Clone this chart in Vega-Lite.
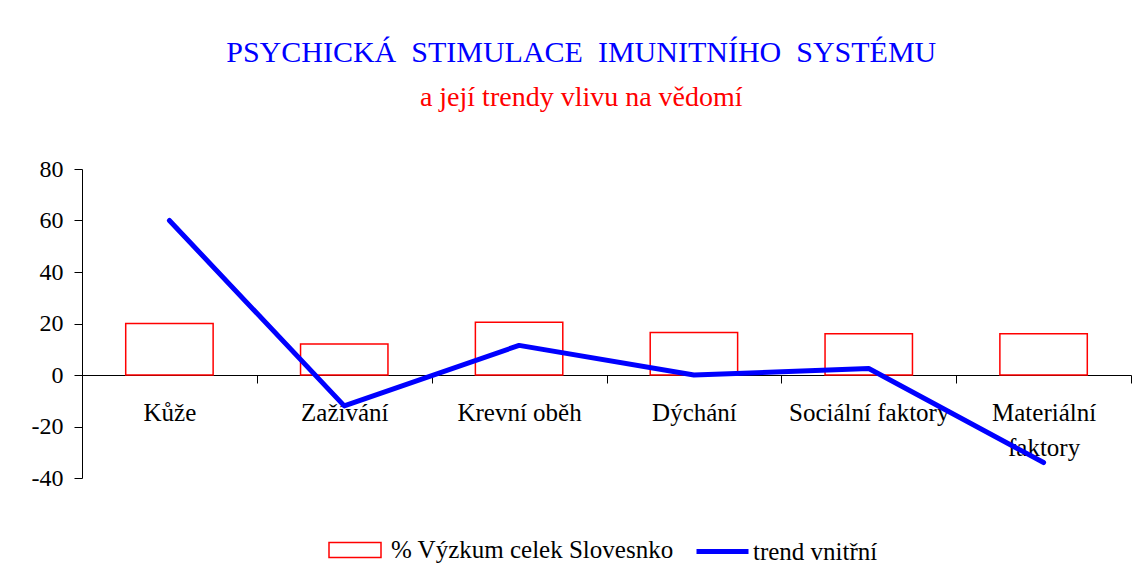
{
  "$schema": "https://vega.github.io/schema/vega-lite/v6.json",
  "width": 1049,
  "height": 309,
  "autosize": {"type": "none"},
  "padding": {"left": 82, "top": 169, "right": 10, "bottom": 87},
  "background": "white",
  "title": {
    "text": "PSYCHICKÁ\u00a0\u00a0STIMULACE\u00a0\u00a0IMUNITNÍHO\u00a0\u00a0SYSTÉMU",
    "subtitle": "a její trendy vlivu na vědomí",
    "anchor": "middle",
    "frame": "bounds",
    "font": "Liberation Serif",
    "fontSize": 30,
    "fontWeight": "normal",
    "color": "#0000FF",
    "subtitleFont": "Liberation Serif",
    "subtitleFontSize": 28,
    "subtitleColor": "#FF0000",
    "subtitlePadding": 16,
    "offset": 45
  },
  "data": {
    "values": [
      {"kategorie": "Kůže", "vyzkum": 20, "trend": 60},
      {"kategorie": "Zažívání", "vyzkum": 12, "trend": -12},
      {"kategorie": "Krevní oběh", "vyzkum": 20.5, "trend": 11.5},
      {"kategorie": "Dýchání", "vyzkum": 16.5, "trend": 0},
      {"kategorie": "Sociální faktory", "vyzkum": 16, "trend": 2.5},
      {"kategorie": "Materiální faktory", "vyzkum": 16, "trend": -34}
    ]
  },
  "encoding": {
    "x": {
      "field": "kategorie",
      "type": "nominal",
      "sort": null,
      "scale": {"padding": 0},
      "axis": {
        "title": null,
        "offset": -103,
        "tickBand": "extent",
        "labelAngle": 0,
        "labelFont": "Liberation Serif",
        "labelFontSize": 25,
        "labelColor": "black",
        "labelPadding": 17,
        "labelLineHeight": 35,
        "tickSize": 8,
        "tickColor": "black",
        "domainColor": "black",
        "labelExpr": "datum.label == 'Materiální faktory' ? ['Materiální', 'faktory'] : datum.label"
      }
    }
  },
  "layer": [
    {
      "mark": {"type": "bar", "fill": "white", "strokeWidth": 1.5, "width": {"band": 0.5}},
      "encoding": {
        "y": {
          "field": "vyzkum",
          "type": "quantitative",
          "scale": {"domain": [-40, 80], "nice": false},
          "axis": {
            "title": null,
            "values": [-40, -20, 0, 20, 40, 60, 80],
            "grid": false,
            "labelFont": "Liberation Serif",
            "labelFontSize": 24,
            "labelColor": "black",
            "labelPadding": 11,
            "tickSize": 8,
            "tickColor": "black",
            "domainColor": "black",
            "labelExpr": "replace(datum.label, '−', '-')"
          }
        },
        "stroke": {
          "datum": "% Výzkum celek Slovesnko",
          "type": "nominal",
          "scale": {"range": ["#FF0000"]},
          "legend": {
            "title": null,
            "orient": "none",
            "legendX": 246,
            "legendY": 354,
            "symbolType": "M-1,-0.29H1V0.29H-1Z",
            "symbolSize": 2704,
            "symbolFillColor": "white",
            "symbolStrokeWidth": 1.5,
            "labelFont": "Liberation Serif",
            "labelFontSize": 25,
            "labelColor": "black",
            "labelOffset": 9,
            "labelLimit": 400
          }
        }
      }
    },
    {
      "mark": {"type": "line", "strokeWidth": 5, "strokeCap": "round", "strokeJoin": "round"},
      "encoding": {
        "y": {"field": "trend", "type": "quantitative"},
        "color": {
          "datum": "trend vnitřní",
          "type": "nominal",
          "scale": {"range": ["#0000FF"]},
          "legend": {
            "title": null,
            "orient": "none",
            "legendX": 612,
            "legendY": 354,
            "symbolType": "stroke",
            "symbolSize": 2704,
            "symbolStrokeWidth": 5,
            "labelFont": "Liberation Serif",
            "labelFontSize": 25,
            "labelColor": "black",
            "labelOffset": 2,
            "labelLimit": 400
          }
        }
      }
    }
  ],
  "config": {"view": {"stroke": null}}
}
